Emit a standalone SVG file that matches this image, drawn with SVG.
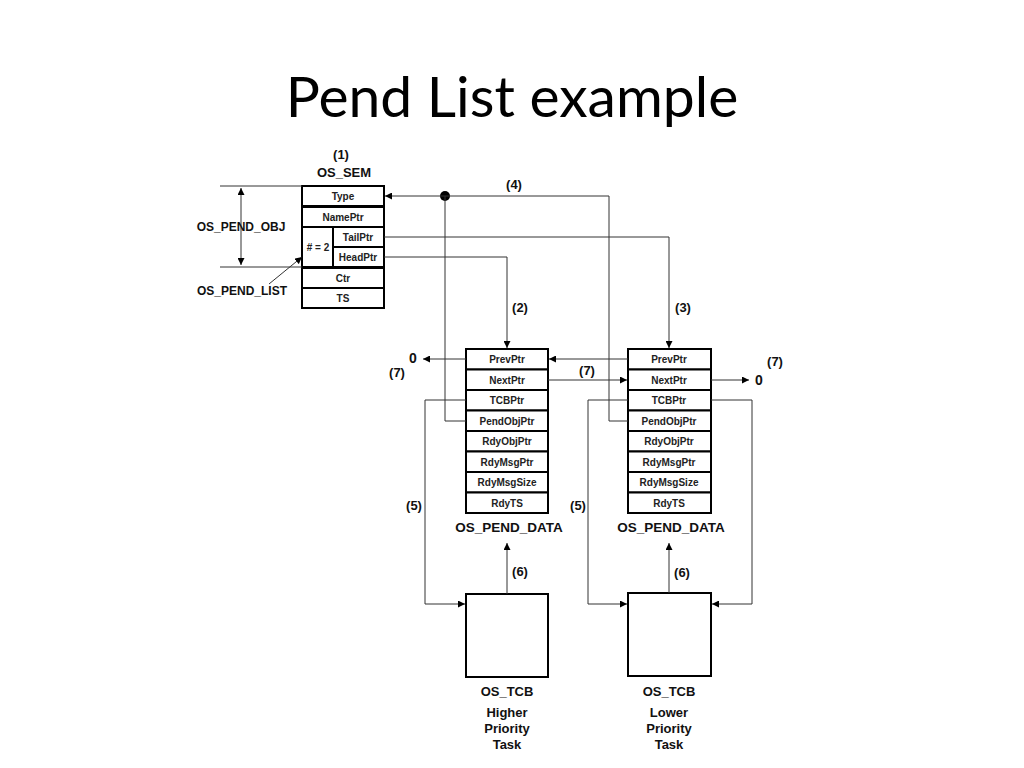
<svg xmlns="http://www.w3.org/2000/svg" width="1024" height="768" viewBox="0 0 1024 768">
<style>
.box{fill:#fff;stroke:#000;stroke-width:2}
.ln{fill:none;stroke:#333;stroke-width:1}
.rt{font-family:"Liberation Sans",Arial,sans-serif;font-size:10px;font-weight:bold;fill:#222;text-anchor:middle}
.lb{font-family:"Liberation Sans",Arial,sans-serif;font-size:13px;font-weight:bold;fill:#111;text-anchor:middle}
.big{font-size:13.5px}
.title{font-family:Lato,"Open Sans",sans-serif;font-size:57px;fill:#000;text-anchor:middle}
</style>
<defs>
<marker id="ah" viewBox="0 0 10 10" refX="10" refY="5" markerWidth="7" markerHeight="7" markerUnits="userSpaceOnUse" orient="auto-start-reverse">
<path d="M0,0 L10,5 L0,10 z" fill="#000"/>
</marker>
</defs>
<rect width="1024" height="768" fill="#fff"/>
<text class="title" x="512" y="117">Pend List example</text>

<g id="os_sem">
<text class="lb" x="341" y="159">(1)</text>
<text class="lb" x="344" y="177">OS_SEM</text>
<rect class="box" x="302" y="186" width="82" height="20"/>
<text class="rt" x="343" y="199.5">Type</text>
<rect class="box" x="302" y="207" width="82" height="20"/>
<text class="rt" x="343" y="220.5">NamePtr</text>
<rect class="box" x="302" y="227" width="82" height="40"/>
<text class="rt" x="318" y="250.5">#&#160;=&#160;2</text>
<rect class="box" x="333" y="227" width="51" height="20"/>
<text class="rt" x="358" y="240.5">TailPtr</text>
<rect class="box" x="333" y="247" width="51" height="20"/>
<text class="rt" x="358" y="260.5">HeadPtr</text>
<rect class="box" x="302" y="268" width="82" height="20"/>
<text class="rt" x="343" y="281.5">Ctr</text>
<rect class="box" x="302" y="288" width="82" height="20"/>
<text class="rt" x="343" y="301.5">TS</text>
</g>

<g id="dims">
<line class="ln" x1="220" y1="186" x2="302" y2="186"/>
<line class="ln" x1="220" y1="267" x2="302" y2="267"/>
<line class="ln" x1="241" y1="188" x2="241" y2="265" marker-start="url(#ah)" marker-end="url(#ah)"/>
<text class="lb" x="241" y="231" style="font-size:12px">OS_PEND_OBJ</text>
<text class="lb" x="242" y="295" style="font-size:12px">OS_PEND_LIST</text>
<line class="ln" x1="269" y1="284" x2="302" y2="257" marker-end="url(#ah)"/>
</g>

<g id="pend_data_1">
<rect class="box" x="466" y="349" width="82" height="20.5"/>
<text class="rt" x="507" y="362.5">PrevPtr</text>
<rect class="box" x="466" y="369.5" width="82" height="20.5"/>
<text class="rt" x="507" y="383.5">NextPtr</text>
<rect class="box" x="466" y="390" width="82" height="20.5"/>
<text class="rt" x="507" y="403.5">TCBPtr</text>
<rect class="box" x="466" y="410.5" width="82" height="20.5"/>
<text class="rt" x="507" y="424.5">PendObjPtr</text>
<rect class="box" x="466" y="431" width="82" height="20.5"/>
<text class="rt" x="507" y="444.5">RdyObjPtr</text>
<rect class="box" x="466" y="451.5" width="82" height="20.5"/>
<text class="rt" x="507" y="465.5">RdyMsgPtr</text>
<rect class="box" x="466" y="472" width="82" height="20.5"/>
<text class="rt" x="507" y="485.5">RdyMsgSize</text>
<rect class="box" x="466" y="492.5" width="82" height="20.5"/>
<text class="rt" x="507" y="506.5">RdyTS</text>
<text class="lb big" x="509" y="532">OS_PEND_DATA</text>
</g>

<g id="pend_data_2">
<rect class="box" x="628" y="349" width="83" height="20.5"/>
<text class="rt" x="669" y="362.5">PrevPtr</text>
<rect class="box" x="628" y="369.5" width="83" height="20.5"/>
<text class="rt" x="669" y="383.5">NextPtr</text>
<rect class="box" x="628" y="390" width="83" height="20.5"/>
<text class="rt" x="669" y="403.5">TCBPtr</text>
<rect class="box" x="628" y="410.5" width="83" height="20.5"/>
<text class="rt" x="669" y="424.5">PendObjPtr</text>
<rect class="box" x="628" y="431" width="83" height="20.5"/>
<text class="rt" x="669" y="444.5">RdyObjPtr</text>
<rect class="box" x="628" y="451.5" width="83" height="20.5"/>
<text class="rt" x="669" y="465.5">RdyMsgPtr</text>
<rect class="box" x="628" y="472" width="83" height="20.5"/>
<text class="rt" x="669" y="485.5">RdyMsgSize</text>
<rect class="box" x="628" y="492.5" width="83" height="20.5"/>
<text class="rt" x="669" y="506.5">RdyTS</text>
<text class="lb big" x="671" y="532">OS_PEND_DATA</text>
</g>

<g id="tcb_1">
<rect class="box" x="466" y="594" width="82" height="83"/>
<text class="lb" x="507" y="696">OS_TCB</text>
<text class="lb" x="507" y="717">Higher</text>
<text class="lb" x="507" y="733">Priority</text>
<text class="lb" x="507" y="749">Task</text>
</g>

<g id="tcb_2">
<rect class="box" x="628" y="593" width="83" height="83"/>
<text class="lb" x="669" y="696">OS_TCB</text>
<text class="lb" x="669" y="717">Lower</text>
<text class="lb" x="669" y="733">Priority</text>
<text class="lb" x="669" y="749">Task</text>
</g>

<g id="connectors">
<circle cx="445" cy="196" r="5" fill="#000"/>
<polyline class="ln" points="609,421 609,196 385,196" marker-end="url(#ah)"/>
<line class="ln" x1="628" y1="421" x2="609" y2="421"/>
<polyline class="ln" points="466,421 445,421 445,196"/>
<text class="lb" x="514" y="189">(4)</text>
<polyline class="ln" points="384,237 669,237 669,348" marker-end="url(#ah)"/>
<text class="lb" x="683" y="312">(3)</text>
<polyline class="ln" points="384,257 507,257 507,348" marker-end="url(#ah)"/>
<text class="lb" x="520" y="312">(2)</text>
<line class="ln" x1="466" y1="359" x2="423" y2="359" marker-end="url(#ah)"/>
<text class="lb" x="413" y="363" style="font-size:14px">0</text>
<text class="lb" x="397" y="377">(7)</text>
<line class="ln" x1="628" y1="359" x2="549" y2="359" marker-end="url(#ah)"/>
<line class="ln" x1="548" y1="380" x2="627" y2="380" marker-end="url(#ah)"/>
<text class="lb" x="587" y="375">(7)</text>
<line class="ln" x1="711" y1="380" x2="749" y2="380" marker-end="url(#ah)"/>
<text class="lb" x="759" y="385" style="font-size:14px">0</text>
<text class="lb" x="775" y="366">(7)</text>
<polyline class="ln" points="466,400 425,400 425,604 465,604" marker-end="url(#ah)"/>
<text class="lb" x="414" y="510">(5)</text>
<polyline class="ln" points="628,400 588,400 588,604 627,604" marker-end="url(#ah)"/>
<text class="lb" x="578" y="510">(5)</text>
<polyline class="ln" points="711,400 752,400 752,604 712,604" marker-end="url(#ah)"/>
<line class="ln" x1="507" y1="594" x2="507" y2="543" marker-end="url(#ah)"/>
<text class="lb" x="520" y="576">(6)</text>
<line class="ln" x1="669" y1="593" x2="669" y2="543" marker-end="url(#ah)"/>
<text class="lb" x="682" y="577">(6)</text>
</g>
</svg>
